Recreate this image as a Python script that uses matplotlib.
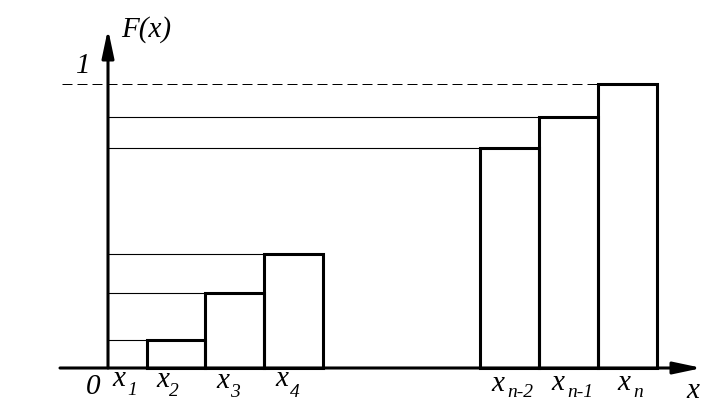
import matplotlib
matplotlib.use("Agg")
import matplotlib.pyplot as plt

# empirical distribution function sketch: boxes at the jump points
bar_left = [0.66, 1.64, 2.64, 6.30, 7.30, 8.30]
bar_width = [0.98, 1.00, 1.00, 1.00, 1.00, 1.01]
F_values = [0.10, 0.265, 0.40, 0.775, 0.885, 1.0]

base_labels = ["x", "x", "x", "x", "x", "x", "x"]
sub_labels = ["1", "2", "3", "4", "n-2", "n-1", "n"]

W, H = 719, 419
fig = plt.figure(figsize=(W / 100, H / 100), dpi=100)
ax = fig.add_axes([0, 0, 1, 1])
ax.set_xlim(-108 / 59, 611 / 59)
ax.set_ylim(-51 / 284, 368 / 284)
ax.axis("off")

thick = 2.2
thin = 0.8
font = "Liberation Serif"

# thin guide lines from the F axis to each box
for left, h in zip(bar_left[:-1], F_values[:-1]):
    ax.plot([0, left], [h, h], color="black", lw=thin, zorder=1)

# dashed level 1
ax.plot([-46 / 59, bar_left[-1]], [1, 1], color="black", lw=0.72,
        dashes=(10, 5), zorder=1)

# boxes
ax.bar(bar_left, F_values, width=bar_width, align="edge", fill=False,
       edgecolor="black", linewidth=thick, joinstyle="miter", zorder=3)

# axes with arrows
arrow = dict(arrowstyle="-|>,head_length=1.7,head_width=0.36", lw=thick,
             color="black", shrinkA=0, shrinkB=0, mutation_scale=10)
ax.annotate("", xy=(594 / 59, 0), xytext=(-48 / 59, 0), arrowprops=arrow,
            zorder=4)
ax.annotate("", xy=(0, 339 / 284), xytext=(0, 0), arrowprops=arrow,
            zorder=4)


def put(s, px, py, size):
    fig.text(px / W, 1 - py / H, s, fontsize=size, family=font,
             style="italic", ha="left", va="baseline")


# label layout in image pixels (left, baseline)
base_pos = [(112, 386), (156, 387), (216, 388), (275, 386),
            (491, 391), (551, 390), (617, 390)]
sub_pos = [(127, 395), (169, 396), (230, 397), (290, 397),
           (507, 397), (567, 397), (633, 397)]

for b, s, bp, sp in zip(base_labels, sub_labels, base_pos, sub_pos):
    put(b, bp[0], bp[1], 21)
    put(s, sp[0], sp[1], 14)

put("0", 86, 394, 21)
put("x", 686, 398, 21)
put("F(x)", 121, 37, 21)
put("1", 76, 73, 21)

fig.savefig("out.png", dpi=100)
